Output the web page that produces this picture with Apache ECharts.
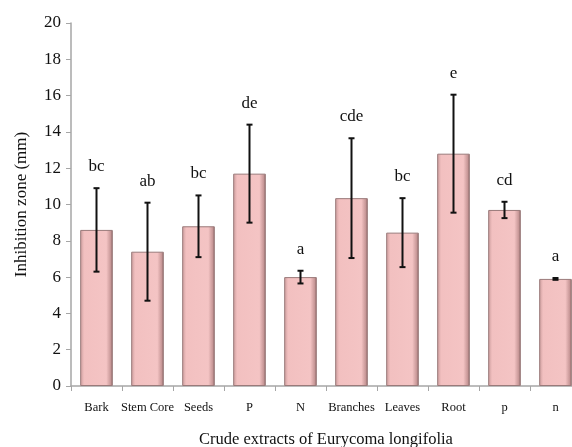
<!DOCTYPE html>
<html><head><meta charset="utf-8">
<script src="https://cdn.jsdelivr.net/npm/echarts@6/dist/echarts.min.js"></script>
<style>html,body{margin:0;padding:0;background:#fff}#c{width:572px;height:447px}</style>
</head><body><div id="c"></div>
<script>
const categories = ['Bark','Stem Core','Seeds','P','N','Branches','Leaves','Root','p','n'];
const means = [8.6, 7.4, 8.8, 11.7, 6.0, 10.35, 8.45, 12.8, 9.7, 5.9];
const errors = [2.3, 2.7, 1.7, 2.7, 0.35, 3.3, 1.9, 3.25, 0.45, 0.05];
const letters = ['bc','ab','bc','de','a','cde','bc','e','cd','a'];
const yTicks = [0,2,4,6,8,10,12,14,16,18,20];

const chart = echarts.init(document.getElementById('c'));
const font = 'Liberation Serif';
chart.setOption({
  animation:false,
  grid:{left:71, top:23, width:510, height:363, outerBoundsMode:'none', containLabel:false},
  xAxis:{type:'category', data:categories,
    name:'Crude extracts of Eurycoma longifolia', nameLocation:'middle', nameGap:45,
    nameTextStyle:{fontFamily:font, fontSize:16.5, color:'#111'},
    axisLine:{lineStyle:{color:'#a6a6a6', width:1.5}},
    axisTick:{show:true, interval:0, alignWithLabel:false, length:5, lineStyle:{color:'#a6a6a6'}},
    axisLabel:{interval:0, hideOverlap:false, fontFamily:font, fontSize:12.5, color:'#111', margin:15}},
  yAxis:{type:'value', min:yTicks[0], max:yTicks[yTicks.length-1], interval:2,
    name:'Inhibition zone (mm)', nameLocation:'middle', nameGap:41,
    nameTextStyle:{fontFamily:font, fontSize:17, color:'#111'},
    axisLine:{show:true, lineStyle:{color:'#a6a6a6', width:1.5}},
    axisTick:{show:true, length:5, lineStyle:{color:'#a6a6a6'}},
    splitLine:{show:false},
    axisLabel:{fontFamily:font, fontSize:17, color:'#111', margin:10}},
  series:[
    {type:'bar', data:means, barCategoryGap:'36%',
      itemStyle:{
        color:new echarts.graphic.LinearGradient(0,0,1,0,[
          {offset:0,color:'#c99a9a'},{offset:0.12,color:'#f2c0c0'},
          {offset:0.8,color:'#f4c4c4'},{offset:0.93,color:'#c89898'},{offset:1,color:'#8a6666'}]),
        borderColor:'#9a7a7a', borderWidth:1}},
    {type:'custom', data:means.map((m,i)=>[i,m,errors[i],letters[i]]),
      renderItem:function(params, api){
        const i=api.value(0), m=api.value(1), e=api.value(2);
        const top=api.coord([i,m+e]), bot=api.coord([i,m-e]);
        const cap=3;
        const st={stroke:'#111', lineWidth:2};
        return {type:'group', children:[
          {type:'line', shape:{x1:top[0],y1:top[1],x2:bot[0],y2:bot[1]}, style:st},
          {type:'line', shape:{x1:top[0]-cap,y1:top[1],x2:top[0]+cap,y2:top[1]}, style:st},
          {type:'line', shape:{x1:bot[0]-cap,y1:bot[1],x2:bot[0]+cap,y2:bot[1]}, style:st},
          {type:'text', style:{text:letters[params.dataIndex], x:top[0], y:top[1]-13,
            align:'center', verticalAlign:'bottom', font:'17px "Liberation Serif"', fill:'#111'}}
        ]};
      }, z:5}
  ]
});
</script></body></html>
